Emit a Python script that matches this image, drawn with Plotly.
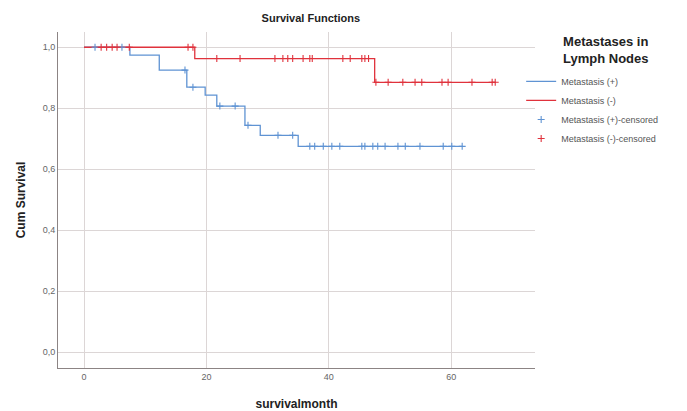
import plotly.graph_objects as go
import numpy as np

# Kaplan-Meier step data (months, cumulative survival)
pos_times = [0, 7.5, 12.3, 16.8, 19.8, 21.7, 26.3, 28.8, 35.0, 61.9]
pos_surv = [1.0, 0.974, 0.925, 0.869, 0.843, 0.807, 0.744, 0.711, 0.675, 0.675]

neg_times = [0, 18.1, 47.5, 67.2]
neg_surv = [1.0, 0.963, 0.885, 0.885]

# censored observation times
pos_cens = [1.8, 6.2, 16.5, 17.8, 22.2, 24.7, 26.8, 31.7, 34.1,
            36.9, 37.7, 39.1, 40.5, 41.8, 45.4, 45.9, 47.2, 48.0, 49.2,
            51.3, 52.5, 54.9, 58.7, 60.1, 61.8]
neg_cens = [2.8, 3.7, 4.6, 5.4, 7.4, 17.0, 17.8,
            21.7, 25.5, 31.2, 32.5, 33.3, 34.1, 35.8, 36.9, 37.3, 42.3, 43.5,
            45.4, 45.9, 46.5,
            47.7, 49.7, 52.1, 54.1, 55.2, 58.5, 59.5, 63.4, 66.7, 67.2]

x_ticks = [0, 20, 40, 60]
y_ticks = [0.0, 0.2, 0.4, 0.6, 0.8, 1.0]


def step_at(times, surv, t):
    idx = np.searchsorted(np.array(times), t, side="right") - 1
    return [surv[i] for i in idx]


BLUE = "#5f93d3"
RED = "#e0323c"
FONT = "Liberation Sans, Arial, sans-serif"

fig = go.Figure()
fig.add_trace(go.Scatter(x=pos_times, y=pos_surv, mode="lines", line_shape="hv",
                         line=dict(color=BLUE, width=1.3), name="Metastasis (+)"))
fig.add_trace(go.Scatter(x=neg_times, y=neg_surv, mode="lines", line_shape="hv",
                         line=dict(color=RED, width=1.3), name="Metastasis (-)"))
fig.add_trace(go.Scatter(x=pos_cens, y=step_at(pos_times, pos_surv, pos_cens), mode="markers",
                         marker=dict(symbol="cross-thin", size=5, line=dict(color=BLUE, width=1.1)),
                         name="Metastasis (+)-censored"))
fig.add_trace(go.Scatter(x=neg_cens, y=step_at(neg_times, neg_surv, neg_cens), mode="markers",
                         marker=dict(symbol="cross-thin", size=5, line=dict(color=RED, width=1.1)),
                         name="Metastasis (-)-censored"))

fig.update_layout(
    width=679, height=403,
    margin=dict(l=50, r=152, t=24, b=43, autoexpand=False),
    paper_bgcolor="white", plot_bgcolor="white",
    separators=", ",
    font=dict(family=FONT, size=9, color="#555555"),
    title=dict(text="<b>Survival Functions</b>", x=0.446, xanchor="center", y=0.975, yanchor="middle",
               font=dict(size=11, color="#222222"), automargin=False),
    showlegend=True,
    legend=dict(x=0.971, xanchor="left", y=0.896, yanchor="top",
                font=dict(size=9, color="#555555"), bgcolor="rgba(0,0,0,0)",
                itemwidth=30, tracegroupgap=0),
    xaxis=dict(range=[-4.25, 73.7], tickvals=x_ticks, showgrid=True, gridcolor="#dcd6d6",
               gridwidth=1, zeroline=False, showline=True, linecolor="#8c8484", linewidth=1,
               ticks="", automargin=False,
               title=dict(text="<b>survivalmonth</b>", font=dict(size=12, color="#222222"),
                          standoff=18),
               tickfont=dict(size=9, color="#666666")),
    yaxis=dict(range=[-0.052, 1.05], tickvals=y_ticks, tickformat=".1f", showgrid=True,
               gridcolor="#dcd6d6", gridwidth=1, zeroline=False, showline=True,
               linecolor="#8c8484", linewidth=1, ticks="", automargin=False,
               title=dict(text="<b>Cum Survival</b>", font=dict(size=12, color="#222222"), standoff=14),
               tickfont=dict(size=9, color="#666666")),
    annotations=[dict(text="<b>Metastases in<br>Lymph Nodes</b>", xref="paper", yref="paper",
                      x=1.147, y=0.945, xanchor="center", yanchor="middle", showarrow=False,
                      font=dict(size=13, color="#222222"))],
)

fig.write_html("out.html")
